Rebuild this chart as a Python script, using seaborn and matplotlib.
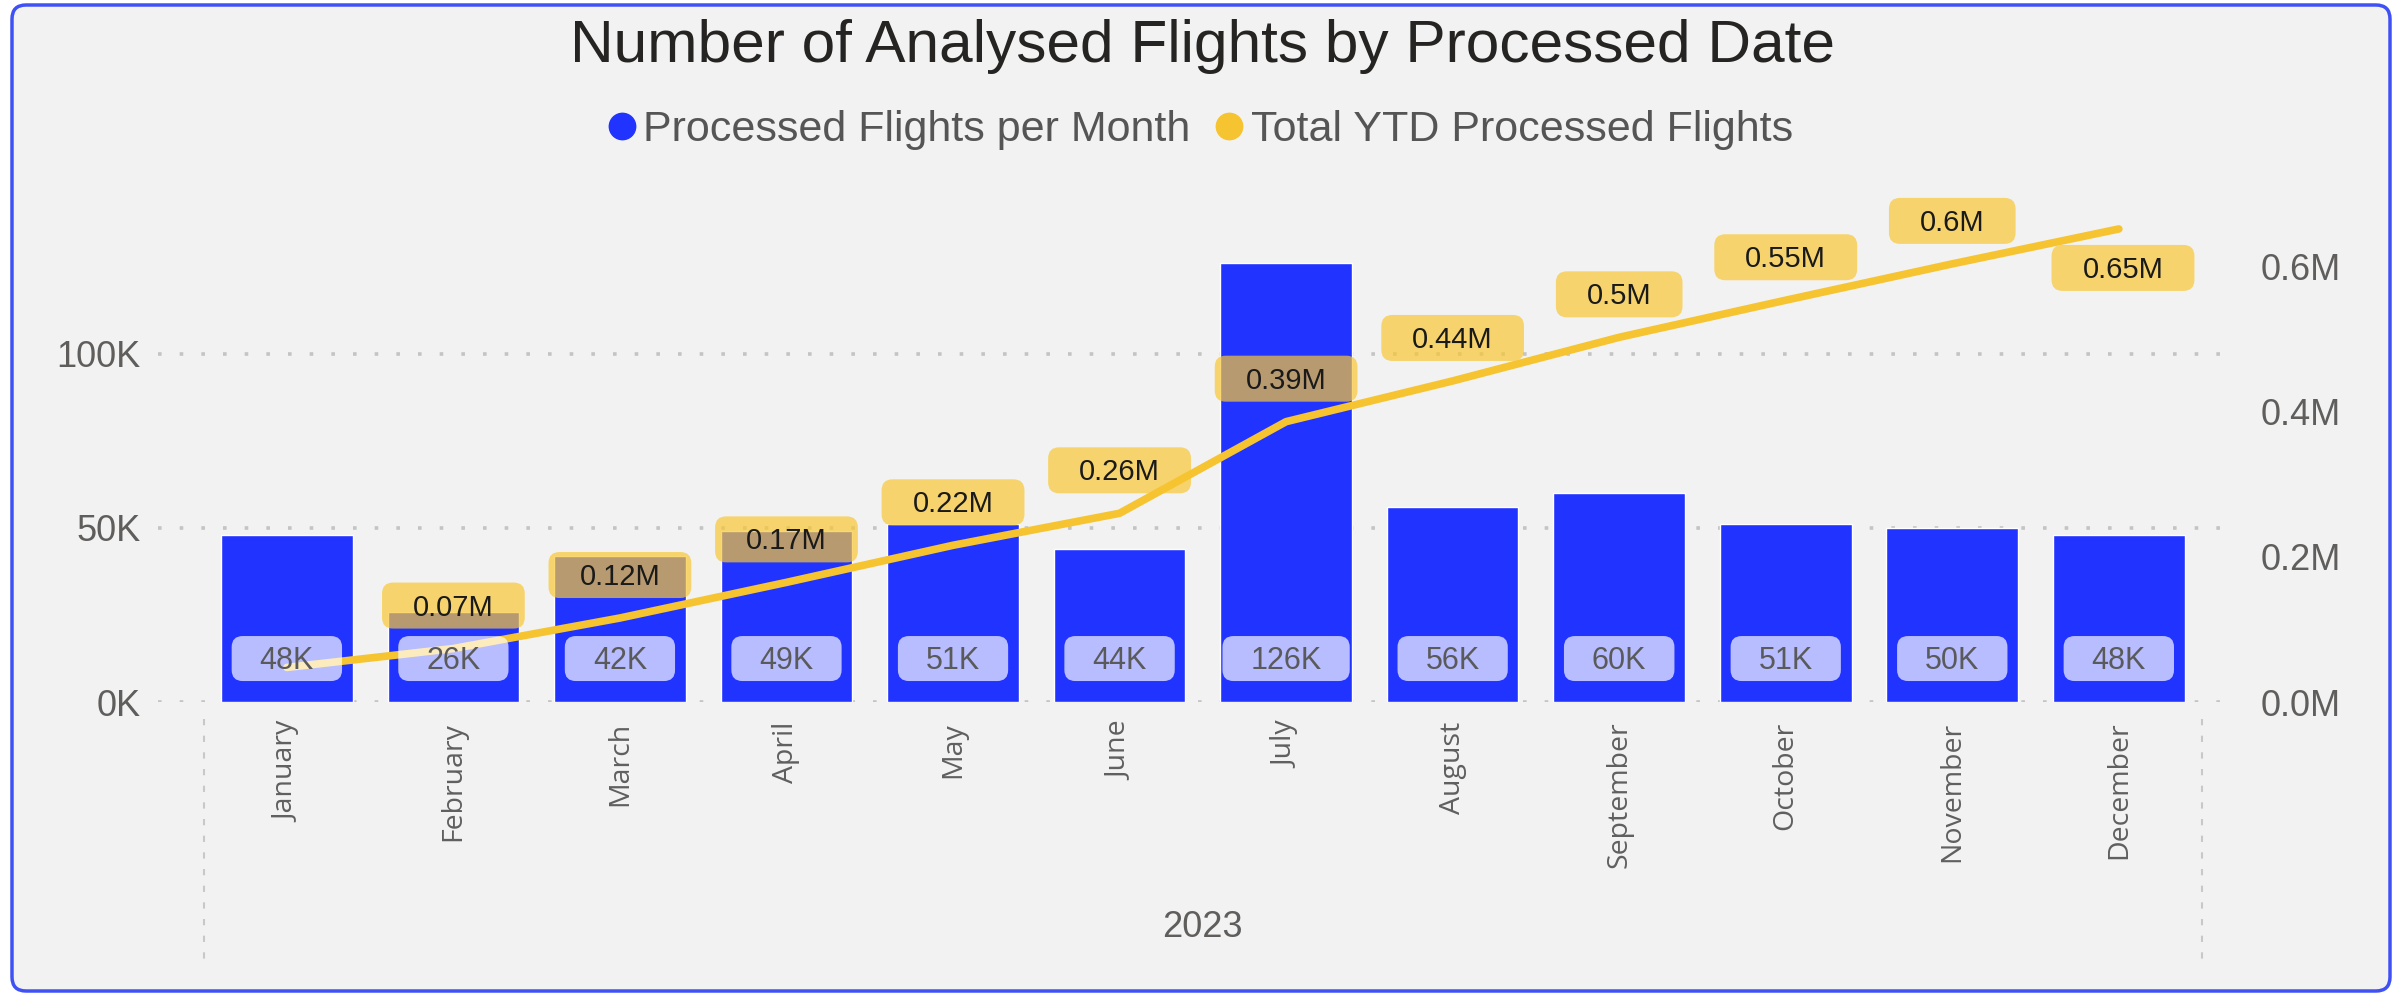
import numpy as np
import pandas as pd
import matplotlib
matplotlib.use("Agg")
import matplotlib.pyplot as plt
import matplotlib.transforms as mtransforms
from matplotlib.patches import FancyBboxPatch
from matplotlib.lines import Line2D
import seaborn as sns

# ---------------- data ----------------
months = ["January", "February", "March", "April", "May", "June",
          "July", "August", "September", "October", "November", "December"]
year_label = "2023"
monthly_flights = [48000, 26000, 42000, 49000, 51000, 44000,
                   126000, 56000, 60000, 51000, 50000, 48000]
ytd_flights = [48000, 74000, 116000, 165000, 216000, 260000,
               386000, 442000, 502000, 553000, 603000, 651000]
monthly_labels = ["48K", "26K", "42K", "49K", "51K", "44K",
                  "126K", "56K", "60K", "51K", "50K", "48K"]
ytd_labels = ["", "0.07M", "0.12M", "0.17M", "0.22M", "0.26M",
              "0.39M", "0.44M", "0.5M", "0.55M", "0.6M", "0.65M"]
left_ticks = [0, 50000, 100000]
left_tick_labels = ["0K", "50K", "100K"]
right_ticks = [0, 200000, 400000, 600000]
right_tick_labels = ["0.0M", "0.2M", "0.4M", "0.6M"]
title = "Number of Analysed Flights by Processed Date"
series_names = ["Processed Flights per Month", "Total YTD Processed Flights"]

# ---------------- style ----------------
sns.set_theme(style="white")
plt.rcParams["font.family"] = ["Liberation Sans", "DejaVu Sans"]

BG = "#F2F2F2"
BAR = "#2133FF"
LINE = "#F6C431"
YBOX = "#F8C733"
TICK_C = "#605E5C"
W, H = 2399, 993

fig = plt.figure(figsize=(W / 100, H / 100), dpi=100, facecolor="white")
# card background with blue border
card = FancyBboxPatch((12, 2), 2378, 986, boxstyle="round,pad=0,rounding_size=14",
                      transform=mtransforms.IdentityTransform(),
                      facecolor=BG, edgecolor="#3F51F5", lw=2.5, zorder=-5)
fig.patches.append(card)

ax = fig.add_axes([0.0657, 0.2927, 0.8668, 0.4918])
ax.set_facecolor("none")
ax2 = ax.twinx()
ax2.patch.set_visible(False)

df = pd.DataFrame({"Month": months, "Flights": monthly_flights})
sns.barplot(data=df, x="Month", y="Flights", order=months, ax=ax,
            color=BAR, saturation=1, width=0.79, zorder=2)
pos = np.arange(len(months))
sns.lineplot(x=pos, y=ytd_flights, ax=ax2, color=LINE, lw=5.5, zorder=4,
             solid_capstyle="round")

ax.set_xlim(-0.776, 11.71)
ax.set_ylim(0, 140000)
ax2.set_ylim(0, 671579)

for s in list(ax.spines.values()) + list(ax2.spines.values()):
    s.set_visible(False)

# gridlines
for t in left_ticks:
    ax.axhline(t, color="#C4C4C4", lw=2.6, ls=(0, (1, 5)), zorder=1, xmax=0.998)

ax.set_yticks(left_ticks)
ax.set_yticklabels(left_tick_labels)
ax.tick_params(axis="y", length=0, pad=12, labelsize=26, labelcolor=TICK_C)
ax2.set_yticks(right_ticks)
ax2.set_yticklabels(right_tick_labels)
ax2.tick_params(axis="y", length=0, pad=17, labelsize=26, labelcolor=TICK_C)
ax.set_xticks(pos)
ax.set_xticklabels(months, rotation=90, fontsize=20.5, color="#5f5f5f",
                   family=["Open Sans", "DejaVu Sans"], va="top")
ax.tick_params(axis="x", length=0, pad=14)
ax.set_xlabel("")
ax.set_ylabel("")
ax2.set_ylabel("")
ax2.set_xlabel("")

# year group separators and label
blend = mtransforms.blended_transform_factory(ax.transData, ax.transAxes)
for xv in (-0.5, 11.5):
    ax.plot([xv, xv], [-0.035, -0.537], transform=blend, clip_on=False,
            color="#C8C8C8", lw=1.5, ls=(0, (3, 5)))
ax.text(5.5, -0.461, year_label, transform=blend, ha="center", va="center",
        fontsize=26, color=TICK_C)

# labels
ytd_texts = []
for i, lab in enumerate(ytd_labels):
    if not lab:
        continue
    dy = -29.5 if i == len(months) - 1 else 29.5
    dx = 3 if i == len(months) - 1 else 0
    t = ax2.annotate(lab, (pos[i], ytd_flights[i]), xytext=(dx, dy),
                     textcoords="offset points", ha="center", va="center",
                     fontsize=21, color="#1a1a1a", zorder=6)
    ytd_texts.append(t)

blend2 = mtransforms.blended_transform_factory(ax2.transData, ax2.transAxes)
bar_texts = []
for i, lab in enumerate(monthly_labels):
    t = ax2.text(pos[i], 0.0856, lab, transform=blend2, ha="center", va="center",
                 fontsize=22, color="#5a5a5a", zorder=8)
    bar_texts.append(t)

# title & legend
fig.text(0.5014, 0.953, title, ha="center", va="center", fontsize=43.5,
         color="#252423")
handles = [Line2D([], [], marker="o", ls="", color=BAR, markersize=19),
           Line2D([], [], marker="o", ls="", color=LINE, markersize=19)]
leg = fig.legend(handles, series_names, loc="center", bbox_to_anchor=(0.4988, 0.869),
                 ncol=2, frameon=False, fontsize=31, handletextpad=0.0,
                 columnspacing=0.4, handlelength=1.0, labelcolor="#555555")

# rounded label boxes, sized from the rendered text
fig.canvas.draw()
r = fig.canvas.get_renderer()


def add_box(txt, padx, h, fc, alpha, z):
    bb = txt.get_window_extent(r)
    cx = (bb.x0 + bb.x1) / 2
    cy = (bb.y0 + bb.y1) / 2 + 2
    w = bb.width + 2 * padx
    p = FancyBboxPatch((cx - w / 2, cy - h / 2), w, h,
                       boxstyle="round,pad=0,rounding_size=11",
                       transform=mtransforms.IdentityTransform(),
                       facecolor=fc, edgecolor="none", alpha=alpha,
                       zorder=z, clip_on=False)
    ax2.add_patch(p)


for t in ytd_texts:
    add_box(t, 31, 46, YBOX, 0.7, 3)
for t in bar_texts:
    add_box(t, 28, 45, "white", 0.68, 7)

fig.savefig("out.png", dpi=100, facecolor="white")
